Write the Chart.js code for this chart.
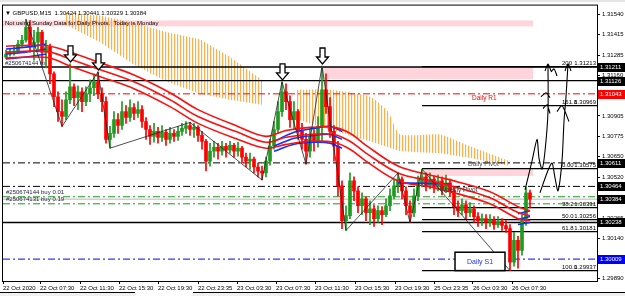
<!DOCTYPE html>
<html>
<head>
<meta charset="utf-8">
<script src="https://cdn.jsdelivr.net/npm/chart.js@4.4.1/dist/chart.umd.min.js"></script>
<style>
  html, body { margin: 0; padding: 0; background: #fff; overflow: hidden; }
  canvas { display: block; }
</style>
</head>
<body>
<canvas id="chart" width="625" height="296"></canvas>
<script>
// GBPUSD M15 candles, one per bar index (open = previous close)
const firstOpen = 1.31273;
const closes = [
  1.31292,1.31304,1.31310,1.31354,1.31378,1.31459,1.31335,1.31366,1.31428,1.31304,
  1.31335,1.31168,1.31025,1.30932,1.30901,1.31006,1.31087,1.31019,1.31056,1.30994,
  1.31044,1.31081,1.31118,1.31044,1.30994,1.30758,1.30796,1.30882,1.30845,1.30932,
  1.30895,1.30957,1.30920,1.30944,1.30870,1.30820,1.30777,1.30808,1.30771,1.30802,
  1.30758,1.30796,1.30777,1.30808,1.30827,1.30845,1.30820,1.30833,1.30783,1.30746,
  1.30622,1.30684,1.30709,1.30684,1.30715,1.30690,1.30721,1.30684,1.30703,1.30647,
  1.30622,1.30634,1.30585,1.30560,1.30548,1.30622,1.30715,1.30820,1.30932,1.31056,
  1.30994,1.30882,1.30932,1.30808,1.30758,1.30684,1.30777,1.30746,1.30839,1.31068,
  1.30963,1.30808,1.30715,1.30467,1.30250,1.30281,1.30498,1.30436,1.30343,1.30386,
  1.30300,1.30324,1.30262,1.30312,1.30287,1.30343,1.30405,1.30467,1.30510,1.30436,
  1.30343,1.30300,1.30405,1.30486,1.30523,1.30467,1.30510,1.30461,1.30498,1.30448,
  1.30486,1.30436,1.30337,1.30312,1.30349,1.30300,1.30324,1.30275,1.30250,1.30262,
  1.30238,1.30256,1.30225,1.30244,1.30219,1.30200,1.29990,1.30126,1.30064,1.30250,
  1.30424,1.30384
];
const highs = [
  1.31316,1.31323,1.31341,1.31378,1.31409,1.31509,1.31502,1.31440,1.31459,1.31440,
  1.31378,1.31354,1.31180,1.31056,1.31006,1.31056,1.31230,1.31106,1.31093,1.31081,
  1.31087,1.31130,1.31168,1.31180,1.31081,1.31025,1.30839,1.30932,1.30920,1.30994,
  1.30969,1.31006,1.30982,1.30994,1.30969,1.30895,1.30845,1.30858,1.30833,1.30845,
  1.30820,1.30833,1.30820,1.30839,1.30858,1.30870,1.30864,1.30858,1.30845,1.30808,
  1.30758,1.30734,1.30746,1.30734,1.30746,1.30734,1.30746,1.30734,1.30740,1.30715,
  1.30672,1.30672,1.30647,1.30610,1.30591,1.30647,1.30758,1.30870,1.30994,1.31118,
  1.31106,1.31031,1.30994,1.30944,1.30858,1.30796,1.30833,1.30820,1.30901,1.31217,
  1.31168,1.31019,1.30845,1.30746,1.30498,1.30343,1.30548,1.30523,1.30461,1.30424,
  1.30399,1.30374,1.30349,1.30343,1.30337,1.30386,1.30448,1.30510,1.30548,1.30523,
  1.30461,1.30374,1.30448,1.30529,1.30572,1.30548,1.30548,1.30529,1.30535,1.30523,
  1.30535,1.30510,1.30461,1.30374,1.30386,1.30374,1.30362,1.30343,1.30300,1.30293,
  1.30287,1.30287,1.30275,1.30275,1.30262,1.30250,1.30225,1.30176,1.30151,1.30287,
  1.30461,1.30441
];
const lows = [
  1.31261,1.31279,1.31285,1.31304,1.31341,1.31366,1.31304,1.31254,1.31316,1.31230,
  1.31205,1.31106,1.30963,1.30870,1.30839,1.30882,1.30982,1.30969,1.30944,1.30932,
  1.30969,1.30994,1.31031,1.31013,1.30932,1.30734,1.30703,1.30771,1.30796,1.30820,
  1.30858,1.30870,1.30882,1.30895,1.30833,1.30758,1.30727,1.30740,1.30734,1.30746,
  1.30721,1.30734,1.30746,1.30752,1.30783,1.30796,1.30783,1.30771,1.30746,1.30696,
  1.30560,1.30591,1.30647,1.30634,1.30659,1.30647,1.30672,1.30647,1.30653,1.30610,
  1.30585,1.30572,1.30548,1.30523,1.30504,1.30523,1.30597,1.30696,1.30796,1.30901,
  1.30944,1.30833,1.30820,1.30758,1.30696,1.30603,1.30647,1.30684,1.30709,1.30746,
  1.30920,1.30771,1.30622,1.30405,1.30200,1.30188,1.30262,1.30374,1.30300,1.30287,
  1.30250,1.30225,1.30213,1.30238,1.30225,1.30275,1.30312,1.30386,1.30424,1.30386,
  1.30287,1.30238,1.30275,1.30374,1.30461,1.30436,1.30448,1.30424,1.30436,1.30411,
  1.30424,1.30399,1.30287,1.30275,1.30287,1.30262,1.30275,1.30238,1.30213,1.30219,
  1.30200,1.30213,1.30194,1.30207,1.30188,1.30176,1.29937,1.29965,1.29952,1.30033,
  1.30219,1.30329
];

// time axis
const timeLabels = ['22 Oct 2020','22 Oct 07:30','22 Oct 11:30','22 Oct 15:30','22 Oct 19:30','22 Oct 23:35',
  '23 Oct 03:30','23 Oct 07:30','23 Oct 11:30','23 Oct 15:30','23 Oct 19:30','25 Oct 23:35','26 Oct 03:30','26 Oct 07:30'];
const timeTickBars = [-0.75, 8.5, 18.5, 28.25, 38, 48, 57.75, 67.5, 77.25, 87.25, 97.25, 107, 116.75, 126.5];

// price axis
const priceTicks = [1.31540, 1.31415, 1.31285, 1.31160, 1.30905, 1.30775, 1.30650, 1.30520, 1.30265, 1.30140, 1.29890];
const boxPrices = [1.31211, 1.31126, 1.31043, 1.30611, 1.30464, 1.30384, 1.30238, 1.30009];

// moving average ribbon (red) read at knots
const maBars = [0, 6, 11, 16, 23, 32, 41, 48, 58, 65, 70, 76, 82, 86, 90, 98, 106, 113, 121, 128, 131];
const maTop = [1.31341,1.31347,1.31341,1.31304,1.31242,1.31161,1.31050,1.30944,1.30839,1.30777,1.30814,1.30833,1.30833,1.30796,1.30721,1.30591,1.30535,1.30492,1.30430,1.30337,1.30312];
const maMid = [1.31304,1.31310,1.31304,1.31261,1.31199,1.31118,1.31006,1.30901,1.30802,1.30740,1.30771,1.30789,1.30789,1.30746,1.30672,1.30548,1.30498,1.30455,1.30393,1.30300,1.30281];
const maBot = [1.31267,1.31273,1.31267,1.31217,1.31155,1.31075,1.30963,1.30858,1.30758,1.30703,1.30727,1.30746,1.30740,1.30696,1.30622,1.30498,1.30461,1.30417,1.30355,1.30262,1.30250];

// blue ribbon, only where it shows
const blueBars = [0, 5, 10, 12, 67, 72, 77, 81, 84, 85, 98, 111, 112, 128, 131];
const blueTop = [1.31323,1.31335,1.31354,null,1.30746,1.30802,1.30827,1.30839,1.30808,null,1.30486,1.30479,null,1.30293,1.30312];
const blueMid = [1.31292,1.31304,1.31323,null,1.30715,1.30765,1.30783,1.30789,1.30758,null,null,null,null,1.30256,1.30275];
const blueBot = [1.31261,1.31273,1.31292,null,1.30684,1.30727,1.30740,1.30734,1.30703,null,null,null,null,1.30225,1.30238];

// orange cloud
const cloudABars = [14.75, 23.5, 31.75, 40.25, 48.5, 56, 64];
const cloudATop = [1.31552,1.31533,1.31490,1.31428,1.31385,1.31273,1.31130];
const cloudABot = [1.31478,1.31366,1.31230,1.31118,1.31044,1.31006,1.30975];
const cloudBBars = [72.75, 81, 91, 95.5, 98.5, 108.5, 116, 126];
const cloudBTop = [1.31068,1.31068,1.31025,1.30932,1.30790,1.30789,1.30715,1.30622];
const cloudBBot = [1.30882,1.30820,1.30746,1.30709,1.30684,1.30672,1.30641,1.30591];

// levels
const levelPrices = [1.31211, 1.31126, 1.31043, 1.30611, 1.30464, 1.30399, 1.30384, 1.30355, 1.30238, 1.30009];
const fiboNames = ['200', '161.8', '0.00', '38.2', '50.0', '61.8', '100.0'];
const fiboPrices = [1.31213, 1.30969, 1.30575, 1.30331, 1.30256, 1.30181, 1.29937];
const fiboFromBar = 104;

// zigzag swing bars (alternating high / low)
const zigzagBars = [5, 14, 23, 26, 46, 64, 69, 75, 79, 85, 98, 101, 104, 126];
const arrowBars = [16, 23, 69, 79];

// pink zones
const zoneFrom = [-0.75, 79.25, 104.25];
const zoneTo = [131.75, 131.75, 131.75];
const zoneHi = [1.31502, 1.31211, 1.30572];
const zoneLo = [1.31465, 1.31135, 1.30529];

// hand drawn arrows on the right
const sketchBars = [129.75,131.5,132.75,133.25,134,134.75,135.5,135.5,135.5,
  134.75,135.5,136.25,136.25,
  133.5,135.25,136.5,137.25,138,139,139.5,140,140.5,140.5,
  139.75,140.5,141.25,141.25,
  133.75,135,136,136,
  136.25,137,137.75,137.75,
  137.75,139,140.75,140.75,
  134.25,135.25,136];
const sketchPrices = [1.30442,1.30622,1.30758,1.30641,1.30572,1.30684,1.30932,1.31230,null,
  1.31186,1.31230,1.31186,null,
  1.30424,1.30548,1.30610,1.30517,1.30436,1.30622,1.30870,1.31025,1.31230,null,
  1.31186,1.31230,1.31186,null,
  1.31025,1.31050,1.31019,null,
  1.31180,1.31199,1.31155,null,
  1.30932,1.30969,1.30870,null,
  1.30951,1.30975,1.30920];

const noteText = ['Daily R1', 'Daily Pivot', 'Weekly Pivot'];
const noteBars = [116.5, 115.5, 108.5];
const notePrices = [1.31013, 1.30603, 1.30442];

const s1Box = { from: 112.25, to: 124.75, hi: 1.30052, lo: 1.29937 };

const X_MIN = -0.75, X_MAX = 147.75;
const FONT = '"Liberation Sans", "DejaVu Sans", sans-serif';
const UP = '#1f9b1f', DOWN = '#ff0000';
const dashDot = [7, 3, 2, 3];

const opens = closes.map((c, i) => i === 0 ? firstOpen : closes[i - 1]);
const candleColors = closes.map((c, i) => c >= opens[i] ? UP : DOWN);

const pts = (xs, ys) => xs.map((x, i) => ({ x, y: ys[i] }));

function line(data, color, width, order, extra) {
  return Object.assign({
    type: 'line', data, borderColor: color, borderWidth: width,
    pointRadius: 0, fill: false, tension: 0, order, spanGaps: false
  }, extra || {});
}

// stripes for the cloud
const stripe = document.createElement('canvas');
stripe.width = 3; stripe.height = 1;
const sc = stripe.getContext('2d');
sc.fillStyle = 'rgba(255,160,40,0.85)';
sc.fillRect(0, 0, 1, 1);
sc.fillStyle = 'rgba(255,200,130,0.25)';
sc.fillRect(1, 0, 1, 1);
const stripePattern = sc.createPattern(stripe, 'repeat');

const levelLook = [
  ['#000', [], 1.3], ['#000', [], 1.3], ['#ff0000', dashDot, 1], ['#000', dashDot, 1], ['#000', dashDot, 1],
  ['#1a9a1a', dashDot, 1], ['#b8b8b8', [], 1], ['#1a9a1a', dashDot, 1], ['#000', [], 1.6], ['#0000ff', dashDot, 1]
];

const datasets = [];

// cloud
datasets.push(line(pts(cloudABars, cloudATop), 'transparent', 0, 20));
datasets.push(line(pts(cloudABars, cloudABot), 'transparent', 0, 20, { fill: '-1', backgroundColor: stripePattern }));
datasets.push(line(pts(cloudBBars, cloudBTop), 'transparent', 0, 20, { tension: 0.2 }));
datasets.push(line(pts(cloudBBars, cloudBBot), 'transparent', 0, 20, { fill: '-1', backgroundColor: stripePattern }));

// horizontal levels
levelPrices.forEach((p, i) => {
  const [c, d, w] = levelLook[i];
  datasets.push(line([{ x: X_MIN, y: p }, { x: X_MAX, y: p }], c, w, 15, { borderDash: d }));
});
fiboPrices.forEach(p => {
  datasets.push(line([{ x: fiboFromBar, y: p }, { x: X_MAX, y: p }], '#000', 1.2, 15));
});

// candles
datasets.push({
  type: 'bar', order: 10, grouped: false, barThickness: 1,
  data: closes.map((c, i) => ({ x: i, y: [lows[i], highs[i]] })),
  backgroundColor: candleColors, borderWidth: 0
});
datasets.push({
  type: 'bar', order: 9, grouped: false, barThickness: 3, minBarLength: 1,
  data: closes.map((c, i) => ({ x: i, y: [opens[i], c] })),
  backgroundColor: candleColors, borderWidth: 0
});

// ribbons
[blueTop, blueMid, blueBot].forEach(arr => {
  datasets.push(line(pts(blueBars, arr), '#1030ff', 1.6, 7, { tension: 0.3 }));
});
[maTop, maMid, maBot].forEach(arr => {
  datasets.push(line(pts(maBars, arr), '#ff1010', 1.6, 6, { tension: 0.35 }));
});

// zigzag
datasets.push(line(zigzagBars.map((b, i) => ({ x: b, y: i % 2 === 0 ? highs[b] : lows[b] })), '#222', 0.8, 4));

// sketch
datasets.push(line(pts(sketchBars, sketchPrices), '#000', 1.1, 3, { tension: 0.25 }));

const overlay = {
  id: 'overlay',
  beforeDatasetsDraw(chart) {
    const { ctx, scales: { x, y } } = chart;
    ctx.save();
    ctx.fillStyle = '#ffd5db';
    zoneFrom.forEach((f, i) => {
      const x0 = x.getPixelForValue(f), x1 = x.getPixelForValue(zoneTo[i]);
      const y0 = y.getPixelForValue(zoneHi[i]), y1 = y.getPixelForValue(zoneLo[i]);
      ctx.fillRect(x0, y0, x1 - x0, y1 - y0);
    });
    ctx.restore();
  },
  afterDatasetsDraw(chart) {
    const { ctx, chartArea: a, scales: { x, y } } = chart;
    ctx.save();

    // hollow arrows over swing highs
    arrowBars.forEach(b => {
      const cx = Math.round(x.getPixelForValue(b)) + 0.5;
      const t = y.getPixelForValue(highs[b]) - 2;
      ctx.beginPath();
      ctx.moveTo(cx, t);
      ctx.lineTo(cx - 6, t - 7);
      ctx.lineTo(cx - 2.5, t - 7);
      ctx.lineTo(cx - 2.5, t - 16);
      ctx.lineTo(cx + 2.5, t - 16);
      ctx.lineTo(cx + 2.5, t - 7);
      ctx.lineTo(cx + 6, t - 7);
      ctx.closePath();
      ctx.fillStyle = '#fff';
      ctx.fill();
      ctx.lineWidth = 1.3;
      ctx.strokeStyle = '#000';
      ctx.stroke();
    });

    // Daily S1 box
    const bx0 = x.getPixelForValue(s1Box.from), bx1 = x.getPixelForValue(s1Box.to);
    const by0 = y.getPixelForValue(s1Box.hi), by1 = y.getPixelForValue(s1Box.lo);
    ctx.fillStyle = '#fff';
    ctx.fillRect(bx0, by0, bx1 - bx0, by1 - by0);
    ctx.lineWidth = 1.5;
    ctx.strokeStyle = '#000';
    ctx.strokeRect(bx0, by0, bx1 - bx0, by1 - by0);
    ctx.fillStyle = '#2030ff';
    ctx.font = '7px ' + FONT;
    ctx.textAlign = 'center';
    ctx.textBaseline = 'middle';
    ctx.fillText('Daily S1', (bx0 + bx1) / 2, (by0 + by1) / 2 + 0.5);

    // level notes
    ctx.textAlign = 'left';
    ctx.font = '6.5px ' + FONT;
    const noteColors = ['#ff0000', '#555', '#333'];
    noteText.forEach((t, i) => {
      ctx.fillStyle = noteColors[i];
      ctx.fillText(t, x.getPixelForValue(noteBars[i]), y.getPixelForValue(notePrices[i]));
    });

    // fibo labels
    ctx.font = '6px ' + FONT;
    ctx.fillStyle = '#000';
    ctx.textBaseline = 'bottom';
    fiboPrices.forEach((p, i) => {
      const py = y.getPixelForValue(p) - 0.5;
      ctx.textAlign = 'left';
      ctx.fillText(fiboNames[i], a.right - 35, py);
      ctx.textAlign = 'right';
      ctx.fillText(p.toFixed(5), a.right - 1, py);
    });

    // order comments
    ctx.textAlign = 'left';
    ctx.fillStyle = '#1c1c40';
    ctx.fillText('#250674144 tp', a.left + 2, y.getPixelForValue(levelPrices[0]) - 1);
    ctx.fillText('#250674144 buy 0.01', a.left + 3, y.getPixelForValue(levelPrices[5]) - 1);
    ctx.fillText('#250674131 buy 0.19', a.left + 3, y.getPixelForValue(levelPrices[7]) - 1);

    // header
    ctx.fillStyle = '#000';
    ctx.textBaseline = 'middle';
    ctx.font = '6px ' + FONT;
    ctx.fillText('\u25BC GBPUSD,M15  1.30424 1.30441 1.30329 1.30384', a.left + 2, a.top + 8);
    ctx.fillText('Not using Sunday Data for Daily Pivots.  Today is Monday', a.left + 2, a.top + 18);
    ctx.restore();
  },
  afterDraw(chart) {
    const { ctx, chartArea: a, scales: { y } } = chart;
    ctx.save();
    const boxColors = ['#000', '#000', '#ff0000', '#000', '#000', '#000', '#000', '#0000ff'];
    ctx.font = '6px ' + FONT;
    ctx.textBaseline = 'middle';
    ctx.textAlign = 'left';
    boxPrices.forEach((p, i) => {
      const py = Math.round(y.getPixelForValue(p));
      ctx.fillStyle = boxColors[i];
      ctx.fillRect(a.right + 1, py - 4, 27, 9);
      ctx.fillStyle = '#fff';
      ctx.fillText(p.toFixed(5), a.right + 3, py + 0.5);
    });
    // frame
    ctx.strokeStyle = '#000';
    ctx.lineWidth = 1;
    ctx.strokeRect(a.left - 0.5, a.top - 0.5, a.right - a.left + 1, a.bottom - a.top + 1);
    ctx.fillStyle = '#e4e4e4';
    ctx.fillRect(0, 0, chart.width, 2);
    // tab strip at the bottom
    ctx.fillStyle = '#f0f0f0';
    ctx.fillRect(0, 293, chart.width, 3);
    ctx.fillStyle = '#000';
    ctx.fillRect(0, 292, 135, 1);
    ctx.fillRect(193, 292, chart.width - 193, 1);
    ctx.fillStyle = '#fff';
    ctx.fillRect(136, 292, 56, 4);
    ctx.restore();
  }
};

new Chart(document.getElementById('chart'), {
  data: { datasets },
  options: {
    responsive: false,
    animation: false,
    devicePixelRatio: 1,
    layout: { padding: { left: 3, top: 3, right: 0, bottom: 0 } },
    plugins: { legend: { display: false }, tooltip: { enabled: false } },
    scales: {
      x: {
        type: 'linear', min: X_MIN, max: X_MAX, offset: false,
        afterBuildTicks: s => { s.ticks = timeTickBars.map(v => ({ value: v })); },
        afterFit: s => { s.height = 15; },
        ticks: {
          autoSkip: false, maxRotation: 0, align: 'start', padding: 1, color: '#000',
          font: { size: 6, family: FONT },
          callback: (v, i) => timeLabels[i]
        },
        grid: { drawOnChartArea: false, tickLength: 3, color: '#000', offset: false },
        border: { color: '#000' }
      },
      y: {
        type: 'linear', position: 'right', min: 1.29872, max: 1.31595,
        afterBuildTicks: s => { s.ticks = priceTicks.map(v => ({ value: v })); },
        afterFit: s => { s.width = 28; },
        ticks: {
          padding: 2, color: '#000', font: { size: 6, family: FONT },
          callback: v => v.toFixed(5)
        },
        grid: { drawOnChartArea: false, tickLength: 3, color: '#000' },
        border: { color: '#000' }
      }
    }
  },
  plugins: [overlay]
});
</script>
</body>
</html>
